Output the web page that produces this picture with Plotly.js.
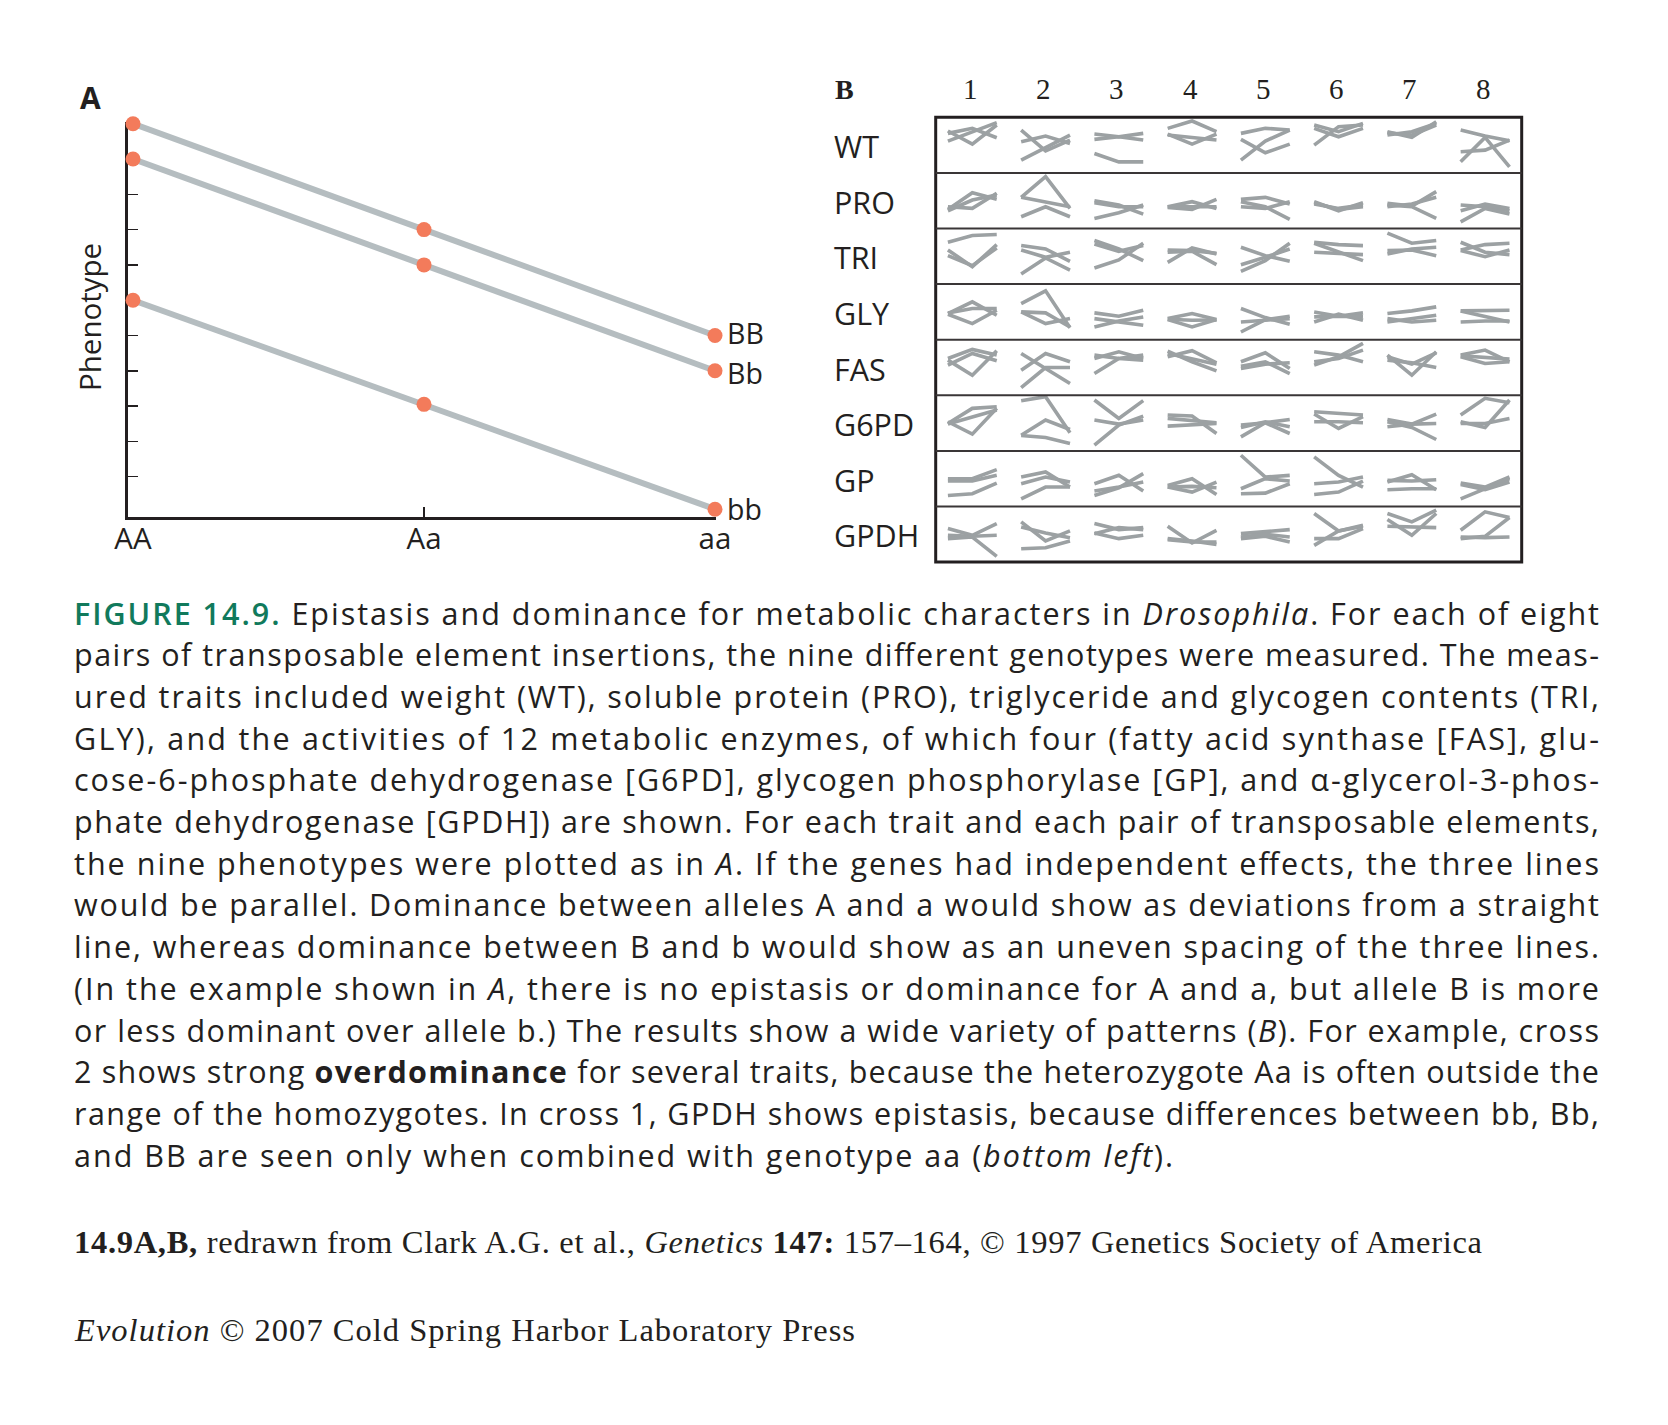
<!DOCTYPE html>
<html>
<head>
<meta charset="utf-8">
<script src="https://cdn.plot.ly/plotly-3.0.1.min.js"></script>
<style>html,body{margin:0;padding:0;background:#fff;}</style>
</head>
<body>
<div id="chart" style="width:1668px;height:1425px;"></div>
<script>
// ---------------- DATA ----------------
// Panel A: phenotype of the nine genotypes (arbitrary units)
const genotypesA = ['AA', 'Aa', 'aa'];
const lineLabels = ['BB', 'Bb', 'bb'];
const phenoBB = [11, 8, 5];
const phenoBb = [10, 7, 4];
const phenobb = [6, 3.05, 0.08];

// Panel B: crosses and traits
const crossNums = ['1', '2', '3', '4', '5', '6', '7', '8'];
const traits = ['WT', 'PRO', 'TRI', 'GLY', 'FAS', 'G6PD', 'GP', 'GPDH'];

// Each cell: three lines, each with values at AA, Aa, aa (relative units, 0-166)
const cellsWT = [
  [[95,123,150],[125,86,143],[118,133,105]],
  [[38,76,113],[128,66,98],[93,110,88]],
  [[116,108,118],[100,108,98],[58,33,33]],
  [[133,155,123],[116,86,116],[113,106,98]],
  [[118,133,128],[38,95,128],[100,60,86]],
  [[83,138,143],[143,123,148],[133,108,133]],
  [[123,106,153],[113,123,148],[120,113,143]],
  [[128,110,96],[33,106,18],[63,68,98]]
];
const cellsPRO = [
  [[57,107,87],[65,60,105],[53,85,100]],
  [[93,155,60],[93,80,65],[35,65,35]],
  [[83,70,43],[77,65,65],[30,47,70]],
  [[65,80,60],[63,57,87],[65,65,65]],
  [[87,93,73],[65,60,80],[80,65,27]],
  [[80,53,77],[73,60,70],[77,57,65]],
  [[75,67,110],[65,73,93],[70,65,30]],
  [[70,65,53],[20,60,43],[53,73,60]]
];
const cellsTRI = [
  [[125,145,148],[102,52,118],[85,55,108]],
  [[115,105,68],[30,78,42],[102,80,95]],
  [[130,105,70],[120,98,115],[48,72,122]],
  [[102,100,92],[65,108,90],[95,98,58]],
  [[110,85,68],[38,70,122],[58,80,105]],
  [[125,118,115],[95,92,88],[122,95,70]],
  [[152,122,130],[100,102,85],[90,105,110]],
  [[102,118,122],[100,82,102],[125,95,88]]
];
const cellsGLY = [
  [[78,113,73],[76,48,88],[80,93,93]],
  [[108,146,36],[83,48,63],[83,80,38]],
  [[80,70,88],[38,56,68],[63,53,43]],
  [[63,78,60],[60,38,60],[61,58,59]],
  [[93,66,46],[23,60,70],[53,58,63]],
  [[83,70,80],[53,76,58],[68,70,68]],
  [[78,86,98],[53,63,73],[63,53,58]],
  [[86,86,88],[53,56,56],[86,70,53]]
];
const cellsFAS = [
  [[110,137,120],[105,60,133],[90,125,103]],
  [[125,80,35],[23,83,83],[75,125,100]],
  [[110,130,110],[65,110,120],[120,110,105]],
  [[132,100,73],[125,110,93],[115,133,97]],
  [[100,127,80],[87,100,65],[80,93,97]],
  [[90,115,155],[130,120,100],[100,110,135]],
  [[120,60,130],[105,97,83],[115,93,127]],
  [[120,135,100],[115,95,100],[118,113,108]]
];
const cellsG6PD = [
  [[82,127,132],[87,50,127],[80,102,122]],
  [[150,162,54],[47,92,64],[46,40,22]],
  [[152,97,150],[17,77,104],[92,80,92]],
  [[107,104,52],[97,90,84],[74,77,82]],
  [[42,84,94],[77,84,52],[70,87,72]],
  [[117,112,107],[110,67,102],[87,87,84]],
  [[94,80,110],[72,80,82],[87,70,34]],
  [[107,157,144],[82,82,97],[87,70,152]]
];
const cellsGP = [
  [[83,83,110],[76,76,93],[33,38,70]],
  [[88,103,58],[68,88,73],[23,58,58]],
  [[68,93,46],[33,56,98],[46,58,73]],
  [[63,83,36],[58,43,73],[58,60,56]],
  [[153,88,93],[53,83,76],[38,40,68]],
  [[148,93,58],[68,73,88],[36,43,76]],
  [[73,95,50],[50,53,53],[78,76,80]],
  [[70,58,88],[23,53,83],[66,50,73]]
];
const cellsGPDH = [
  [[100,80,115],[80,77,80],[70,75,17]],
  [[120,63,93],[105,87,73],[40,43,63]],
  [[115,97,103],[85,103,97],[87,70,80]],
  [[107,57,95],[70,63,53],[67,60,60]],
  [[85,90,97],[70,77,60],[75,83,75]],
  [[145,93,110],[50,93,107],[70,70,100]],
  [[145,120,155],[107,105,103],[127,80,145]],
  [[95,150,133],[75,73,75],[70,77,133]]
];

// Caption text
const captionLines = [
  "<span style='color:#117a5c;font-weight:600'>FIGURE 14.9.</span> Epistasis and dominance for metabolic characters in <i>Drosophila</i>. For each of eight",
  "pairs of transposable element insertions, the nine different genotypes were measured. The meas-",
  "ured traits included weight (WT), soluble protein (PRO), triglyceride and glycogen contents (TRI,",
  "GLY), and the activities of 12 metabolic enzymes, of which four (fatty acid synthase [FAS], glu-",
  "cose-6-phosphate dehydrogenase [G6PD], glycogen phosphorylase [GP], and α-glycerol-3-phos-",
  "phate dehydrogenase [GPDH]) are shown. For each trait and each pair of transposable elements,",
  "the nine phenotypes were plotted as in <i>A</i>. If the genes had independent effects, the three lines",
  "would be parallel. Dominance between alleles A and a would show as deviations from a straight",
  "line, whereas dominance between B and b would show as an uneven spacing of the three lines.",
  "(In the example shown in <i>A</i>, there is no epistasis or dominance for A and a, but allele B is more",
  "or less dominant over allele b.) The results show a wide variety of patterns (<i>B</i>). For example, cross",
  "2 shows strong <b>overdominance</b> for several traits, because the heterozygote Aa is often outside the",
  "range of the homozygotes. In cross 1, GPDH shows epistasis, because differences between bb, Bb,",
  "and BB are seen only when combined with genotype aa (<i>bottom left</i>)."
];
const creditLine = "<b>14.9A,B,</b> redrawn from Clark A.G. et al., <i>Genetics</i> <b>147:</b> 157–164, © 1997 Genetics Society of America";
const copyrightLine = "<i>Evolution</i> © 2007 Cold Spring Harbor Laboratory Press";

// ---------------- LAYOUT HELPERS ----------------
const W = 1668, H = 1425;
const px = x => x / W;
const py = y => 1 - y / H;
const INK = '#231f20';
const SANS = 'Open Sans, Noto Sans, sans-serif';
const SERIF = 'Liberation Serif, DejaVu Serif, serif';

const cellData = [cellsWT, cellsPRO, cellsTRI, cellsGLY, cellsFAS, cellsG6PD, cellsGP, cellsGPDH];

const boxL = 935.7, boxT = 117.3, cellW = 73.25, cellH = 55.6;
const boxR = boxL + 8 * cellW, boxB = boxT + 8 * cellH;

const traces = [];
const layout = {
  width: W, height: H,
  margin: {l: 0, r: 0, t: 0, b: 0},
  paper_bgcolor: '#ffffff',
  plot_bgcolor: 'rgba(0,0,0,0)',
  showlegend: false,
  hovermode: false,
  xaxis: {
    domain: [px(128.3), px(716)], range: [-0.0162, 2.0034],
    tickvals: [1], ticks: 'inside', ticklen: 10, tickwidth: 1.5, tickcolor: INK,
    showticklabels: false, showline: true, linewidth: 3, linecolor: INK,
    showgrid: false, zeroline: false, fixedrange: true, anchor: 'y', layer: 'below traces'
  },
  xaxis2: {
    overlaying: 'x', anchor: 'y', range: [-0.0162, 2.0034],
    tickvals: [0, 1, 2], ticktext: genotypesA, ticks: '',
    showline: false, showgrid: false, zeroline: false, fixedrange: true,
    tickfont: {family: SANS, size: 29.5, color: INK}, ticklabelstandoff: 2
  },
  yaxis: {
    domain: [py(516.7), py(122)], range: [-0.133, 11.048],
    tickvals: [1,2,3,4,5,6,7,8,9,10], ticks: 'inside', ticklen: 10, tickwidth: 1.5, tickcolor: INK,
    showticklabels: false, showline: true, linewidth: 3, linecolor: INK,
    showgrid: false, zeroline: false, fixedrange: true, anchor: 'x', layer: 'below traces'
  },
  shapes: [],
  annotations: []
};

// Panel A traces
const seriesA = [phenoBB, phenoBb, phenobb];
seriesA.forEach((vals, i) => {
  traces.push({
    type: 'scatter', x: [0, 1, 2], y: vals, xaxis: 'x', yaxis: 'y',
    mode: 'lines+markers',
    line: {color: '#b5bdc0', width: 6},
    marker: {color: '#f37b5b', size: 15},
    cliponaxis: false, hoverinfo: 'skip'
  });
});
// invisible trace so that the label axis (x2) is drawn
traces.push({type: 'scatter', x: [0, 2], y: [null, null], xaxis: 'x2', yaxis: 'y', mode: 'lines', hoverinfo: 'skip'});

// Panel B cells as small subplots
let k = 3;
cellData.forEach((row, r) => {
  row.forEach((cell, c) => {
    const xs = [], ys = [];
    cell.forEach((ln, j) => {
      if (j > 0) { xs.push(null); ys.push(null); }
      ln.forEach((v, g) => { xs.push(g); ys.push(v); });
    });
    traces.push({
      type: 'scatter', x: xs, y: ys, xaxis: 'x' + k, yaxis: 'y' + k,
      mode: 'lines', line: {color: '#9ca1a3', width: 3.6},
      connectgaps: false, hoverinfo: 'skip'
    });
    const x0 = boxL + c * cellW, y0 = boxT + r * cellH;
    layout['xaxis' + k] = {domain: [px(x0), px(x0 + cellW)], range: [-0.5, 2.5], visible: false, fixedrange: true, anchor: 'y' + k};
    layout['yaxis' + k] = {domain: [py(y0 + cellH), py(y0)], range: [0, 166], visible: false, fixedrange: true, anchor: 'x' + k};
    k++;
  });
});

// Panel B frame and row separators
layout.shapes.push({type: 'rect', xref: 'paper', yref: 'paper', x0: px(boxL), x1: px(boxR), y0: py(boxT), y1: py(boxB), line: {color: INK, width: 3}});
for (let r = 1; r < 8; r++) {
  const y = boxT + r * cellH;
  layout.shapes.push({type: 'line', xref: 'paper', yref: 'paper', x0: px(boxL), x1: px(boxR), y0: py(y), y1: py(y), line: {color: '#3a3637', width: 2}});
}

const ann = (x, y, text, font, opts) => Object.assign({
  xref: 'paper', yref: 'paper', x: px(x), y: py(y), text: text, showarrow: false,
  xanchor: 'left', yanchor: 'middle', align: 'left', font: font
}, opts || {});

// Labels at the right end of the panel A lines (boxes kept from touching)
const labelFont = {family: SANS, size: 28.5, color: INK};
layout.annotations.push(ann(726, 353, lineLabels[0], labelFont, {yanchor: 'bottom', borderpad: 0}));
layout.annotations.push(ann(726, 353, lineLabels[1], labelFont, {yanchor: 'top', borderpad: 0}));
layout.annotations.push(ann(726, 509, lineLabels[2], labelFont, {borderpad: 0}));

// Panel labels
layout.annotations.push(ann(90.5, 97, '<b>A</b>', {family: SANS, size: 30, color: INK}, {xanchor: 'center', align: 'center'}));
layout.annotations.push(ann(90, 317, 'Phenotype', {family: SANS, size: 29.5, color: INK}, {xanchor: 'center', align: 'center', textangle: -90}));
layout.annotations.push(ann(845, 89, '<b>B</b>', {family: SERIF, size: 28, color: INK}, {xanchor: 'center', align: 'center'}));

crossNums.forEach((t, c) => {
  layout.annotations.push(ann(boxL + (c + 0.5) * cellW - 2, 89, t, {family: SERIF, size: 29, color: INK}, {xanchor: 'center', align: 'center'}));
});
traits.forEach((t, r) => {
  layout.annotations.push(ann(832, boxT + (r + 0.5) * cellH + 1, t, {family: SANS, size: 30.5, color: INK}));
});

// Caption (justified to the column width after drawing)
const stretch = {};
const captionRight = 1597, captionLeft = 72;
captionLines.forEach((t, i) => {
  stretch[layout.annotations.length] = (i < captionLines.length - 1) ? (captionRight - captionLeft) : 1099;
  layout.annotations.push(ann(captionLeft, 612.5 + i * 41.7, t, {family: SANS, size: 30.5, color: INK}));
});
stretch[layout.annotations.length] = 1408;
layout.annotations.push(ann(captionLeft, 1242, creditLine, {family: SERIF, size: 32.5, color: INK}));
stretch[layout.annotations.length] = 780;
layout.annotations.push(ann(captionLeft, 1330, copyrightLine, {family: SERIF, size: 32.5, color: INK}));

Plotly.newPlot('chart', traces, layout, {staticPlot: true, displayModeBar: false}).then(gd => {
  gd.querySelectorAll('g.annotation').forEach(g => {
    const idx = g.getAttribute('data-index');
    if (idx !== null && stretch[idx] !== undefined) {
      const t = g.querySelector('text.annotation-text');
      if (t) {
        t.setAttribute('textLength', stretch[idx]);
        t.setAttribute('lengthAdjust', 'spacing');
      }
    }
  });
});
</script>
</body>
</html>
